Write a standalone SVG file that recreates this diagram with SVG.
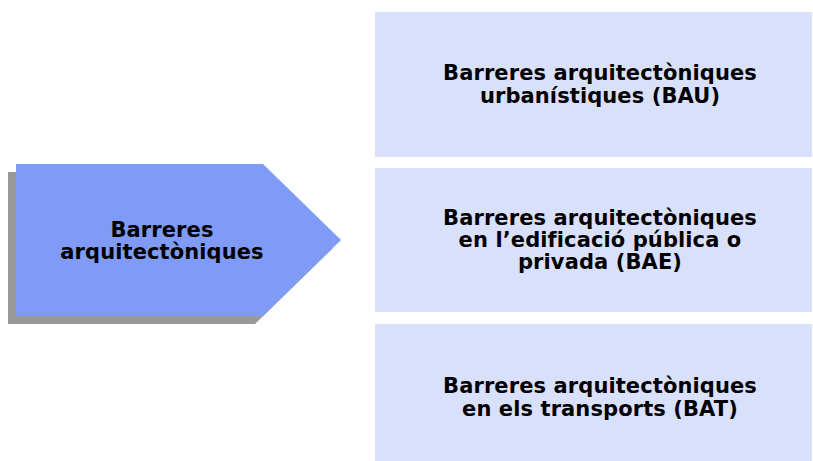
<svg xmlns="http://www.w3.org/2000/svg" width="813" height="461" viewBox="0 0 813 461">
<style>
.t{font-family:"DejaVu Sans","Verdana",sans-serif;font-weight:bold;font-size:21px;letter-spacing:0.1px;fill:#000;text-anchor:middle}
.box{fill:#D9E0FB}
</style>
<rect width="813" height="461" fill="#fff"/>
<g id="main">
<path d="M8,172 L255,172 L333,248 L255,324 L8,324 Z" fill="#999999"/>
<path d="M16,164 L263,164 L341,240 L263,316 L16,316 Z" fill="#7F9BF5"/>
<text class="t" x="162" y="237">Barreres</text>
<text class="t" x="162" y="259">arquitectòniques</text>
</g>
<g id="bau">
<rect class="box" x="375" y="12" width="437" height="145"/>
<text class="t" x="600" y="80">Barreres arquitectòniques</text>
<text class="t" x="600" y="102.5">urbanístiques (BAU)</text>
</g>
<g id="bae">
<rect class="box" x="375" y="168" width="437" height="144"/>
<text class="t" x="600" y="225">Barreres arquitectòniques</text>
<text class="t" x="600" y="247">en l’edificació pública o</text>
<text class="t" x="600" y="269">privada (BAE)</text>
</g>
<g id="bat">
<rect class="box" x="375" y="324" width="437" height="137"/>
<text class="t" x="600" y="393">Barreres arquitectòniques</text>
<text class="t" x="600" y="415.5">en els transports (BAT)</text>
</g>
<g id="connectors"/>
</svg>
